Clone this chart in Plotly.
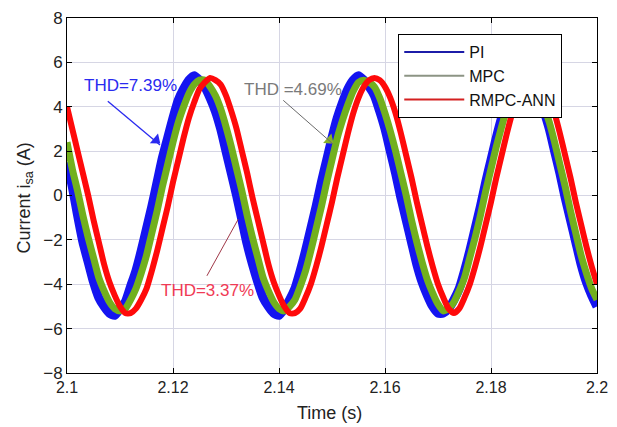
import plotly.graph_objects as go

# sampling grid (s)
time_s = [round(2.100 + 0.001 * i, 3) for i in range(101)]

pi_current = [1.5, 0.4, -0.9, -2.1, -3.0, -3.9, -4.6, -5.0, -5.3, -5.4,
              -5.1, -4.8, -4.1, -3.4, -2.5, -1.5, -0.5, 0.6, 1.7, 2.6,
              3.5, 4.3, 4.8, 5.2, 5.4, 5.2, 4.9, 4.4, 3.8, 3.0,
              2.0, 1.0, 0.0, -1.1, -2.2, -3.1, -3.9, -4.6, -5.0, -5.3,
              -5.4, -5.1, -4.7, -4.2, -3.4, -2.5, -1.5, -0.5, 0.6, 1.6,
              2.6, 3.5, 4.2, 4.8, 5.2, 5.4, 5.2, 4.9, 4.5, 3.8,
              3.0, 2.0, 1.0, -0.1, -1.1, -2.1, -3.1, -3.9, -4.5, -5.0,
              -5.3, -5.3, -5.1, -4.7, -4.2, -3.4, -2.5, -1.5, -0.5, 0.6,
              1.6, 2.6, 3.5, 4.2, 4.8, 5.1, 5.3, 5.2, 4.9, 4.5,
              3.8, 3.0, 2.0, 1.0, -0.1, -1.1, -2.1, -3.1, -3.9, -4.5,
              -5.0]

mpc_current = [2.4, 1.2, 0.2, -0.9, -1.9, -2.8, -3.7, -4.3, -4.8, -5.1,
               -5.2, -5.1, -4.7, -4.2, -3.5, -2.7, -1.7, -0.7, 0.4, 1.4,
               2.4, 3.3, 4.0, 4.6, 5.0, 5.2, 5.2, 4.9, 4.5, 3.9,
               3.1, 2.2, 1.2, 0.2, -0.9, -1.9, -2.8, -3.7, -4.3, -4.8,
               -5.1, -5.2, -5.0, -4.7, -4.1, -3.4, -2.5, -1.5, -0.5, 0.6,
               1.6, 2.6, 3.4, 4.1, 4.7, 5.1, 5.2, 5.1, 4.9, 4.4,
               3.7, 2.9, 2.0, 1.0, 0.0, -1.1, -2.1, -3.0, -3.8, -4.4,
               -4.9, -5.2, -5.1, -4.8, -4.3, -3.7, -2.8, -1.9, -0.9, 0.2,
               1.2, 2.2, 3.1, 3.9, 4.5, 4.9, 5.2, 5.2, 5.0, 4.6,
               4.0, 3.3, 2.4, 1.4, 0.4, -0.7, -1.7, -2.7, -3.5, -4.2,
               -4.7]

rmpc_current = [4.0, 3.0, 2.0, 1.0, 0.0, -1.1, -2.1, -3.1, -3.9, -4.5,
                -5.0, -5.3, -5.3, -5.1, -4.7, -4.2, -3.4, -2.5, -1.5, -0.5,
                0.6, 1.6, 2.6, 3.5, 4.2, 4.8, 5.1, 5.3, 5.2, 5.0,
                4.5, 3.8, 3.0, 2.0, 1.0, -0.1, -1.1, -2.1, -3.1, -3.9,
                -4.5, -5.0, -5.3, -5.3, -5.1, -4.6, -4.0, -3.2, -2.3, -1.3,
                -0.3, 0.8, 1.8, 2.8, 3.7, 4.4, 4.9, 5.2, 5.3, 5.2,
                4.9, 4.4, 3.7, 2.8, 1.8, 0.8, -0.3, -1.3, -2.3, -3.2,
                -4.0, -4.6, -5.1, -5.3, -5.1, -4.6, -4.0, -3.2, -2.3, -1.3,
                -0.3, 0.8, 1.8, 2.8, 3.7, 4.4, 4.9, 5.2, 5.3, 5.2,
                4.9, 4.4, 3.7, 2.8, 1.8, 0.8, -0.3, -1.3, -2.3, -3.2,
                -4.0]

series_names = ["PI", "MPC", "RMPC-ANN"]
thd_labels = ["THD=7.39%", "THD =4.69%", "THD=3.37%"]
x_title = "Time (s)"
y_title = "Current i<sub>sa</sub> (A)"
x_ticks = [2.1, 2.12, 2.14, 2.16, 2.18, 2.2]
x_tick_text = ["2.1", "2.12", "2.14", "2.16", "2.18", "2.2"]
y_ticks = [-8, -6, -4, -2, 0, 2, 4, 6, 8]

FONT = "Liberation Sans, Arial, sans-serif"

fig = go.Figure()

plot_colors = ["#1414f0", "#72b01e", "#ff0a0a"]
plot_widths = [9, 7, 6]
legend_colors = ["#1c1ca8", "#8c9484", "#d42020"]

for ys, col, w in zip([pi_current, mpc_current, rmpc_current], plot_colors, plot_widths):
    fig.add_trace(go.Scatter(x=time_s, y=ys, mode="lines",
                             line=dict(color=col, width=w, shape="spline", smoothing=0.6),
                             showlegend=False, hoverinfo="skip"))

# pointer lines from the THD labels to the curves
pointers = [
    dict(x0=2.1077, y0=4.25, x1=2.11755, y1=2.28, color="#2a2af0", width=1.3),
    dict(x0=2.1408, y0=4.29, x1=2.1502, y1=2.32, color="#6a6a6a", width=1),
    dict(x0=2.1264, y0=-3.62, x1=2.1323, y1=-1.07, color="#a03848", width=1),
]
for p in pointers:
    fig.add_shape(type="line", xref="x", yref="y", x0=p["x0"], y0=p["y0"],
                  x1=p["x1"], y1=p["y1"], line=dict(color=p["color"], width=p["width"]))

# arrow heads (blue and green)
fig.add_trace(go.Scatter(x=[2.1168, 2.1495], y=[2.5, 2.5], mode="markers",
                         marker=dict(symbol="triangle-up", size=11, angle=[130, 131],
                                     color=["#2a2af0", "#86b02a"], line=dict(width=0)),
                         showlegend=False, hoverinfo="skip"))

for name, col in zip(series_names, legend_colors):
    fig.add_trace(go.Scatter(x=[None], y=[None], mode="lines", name=name,
                             line=dict(color=col, width=2)))

annotations = [
    dict(x=2.11198, y=4.96, text=thd_labels[0], showarrow=False,
         font=dict(color="#2a2af0", size=17, family=FONT)),
    dict(x=2.14255, y=4.78, text=thd_labels[1], showarrow=False,
         font=dict(color="#7a7a7a", size=17, family=FONT)),
    dict(x=2.1265, y=-4.29, text=thd_labels[2], showarrow=False,
         font=dict(color="#f03a55", size=17, family=FONT)),
    # axis titles
    dict(xref="paper", yref="paper", x=0.5, y=0, yshift=-40, xshift=-3,
         text=x_title, showarrow=False, xanchor="center", yanchor="middle",
         font=dict(size=18, family=FONT, color="#222222")),
    dict(xref="paper", yref="paper", x=0, y=0.5, xshift=-42, yshift=-3,
         text=y_title, showarrow=False, textangle=-90,
         xanchor="center", yanchor="middle",
         font=dict(size=18, family=FONT, color="#222222")),
]

# page body adds an 8px offset; figure is sized to fit the 617x427 window
fig.update_layout(
    width=609, height=419,
    margin=dict(l=59, r=20, t=10, b=54, autoexpand=False),
    paper_bgcolor="white", plot_bgcolor="white",
    font=dict(family=FONT, size=16, color="#222222"),
    annotations=annotations,
    legend=dict(x=0.625, y=0.955, xanchor="left", yanchor="top",
                bgcolor="white", bordercolor="black", borderwidth=1,
                font=dict(size=16, family=FONT, color="#111111"),
                tracegroupgap=0, itemwidth=60),
    xaxis=dict(range=[2.1, 2.2], tickvals=x_ticks, ticktext=x_tick_text,
               automargin=False,
               showgrid=True, gridcolor="#d6d6e4", gridwidth=1,
               showline=True, linecolor="black", linewidth=1, mirror="ticks",
               ticks="inside", ticklen=5, tickcolor="black", zeroline=False,
               tickfont=dict(size=16)),
    yaxis=dict(range=[-8, 8], tickvals=y_ticks,
               automargin=False, ticklabeloverflow="allow",
               showgrid=True, gridcolor="#d6d6e4", gridwidth=1,
               showline=True, linecolor="black", linewidth=1, mirror="ticks",
               ticks="inside", ticklen=5, tickcolor="black", zeroline=False,
               tickfont=dict(size=17)),
)

fig.write_html("out.html")
